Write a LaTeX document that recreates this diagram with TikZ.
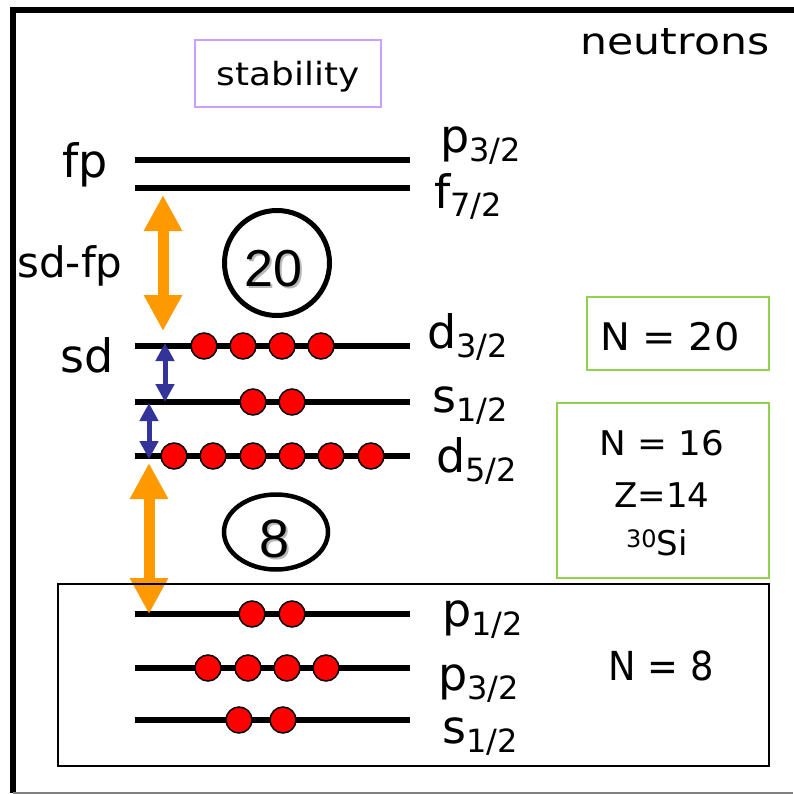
\documentclass[tikz,border=0pt]{standalone}
\usepackage{fontspec}
\setmainfont{DejaVu Sans}
\newfontfamily\arialf{Liberation Sans}
\usepackage{graphicx}
\usetikzlibrary{arrows.meta,shapes.geometric}
\definecolor{orng}{RGB}{255,153,0}
\definecolor{navyb}{RGB}{51,51,153}
\definecolor{lilac}{RGB}{204,160,250}
\definecolor{lgreen}{RGB}{146,208,80}
\newcommand\fsz[1]{\fontsize{#1}{#1}\selectfont}
\newcommand\lvl[2]{{\fsz{46}#1}\raisebox{-9pt}{\fsz{32}#2}}
\newcommand\shadowed[1]{\makebox[0pt][l]{\hspace{2pt}\raisebox{-2pt}{\textcolor{gray!55}{#1}}}#1}
\begin{document}
\begin{tikzpicture}[x=1pt,y=-1pt,
  levelline/.style={line width=6pt},
  elec/.style={circle,draw=black,fill=red,line width=1.5pt,minimum size=26pt,inner sep=0pt},
  bigarrow/.style={draw=orng,line width=11pt,{Triangle[width=36pt,length=36pt]}-{Triangle[width=36pt,length=36pt]}},
  smallarrow/.style={draw=navyb,line width=5pt,{Triangle[width=18pt,length=18pt]}-{Triangle[width=18pt,length=18pt]}},
  lbl/.style={anchor=base west,inner sep=0pt},
  txt/.style={anchor=base,inner sep=0pt},
  greenbox/.style={draw=lgreen,line width=2pt}]
\useasboundingbox (0,0) rectangle (794,794);
% frame
\draw[line width=6pt] (13,793) -- (13,10) -- (794,10);
\draw[gray,line width=1.5pt] (13,793) -- (793,793);
% title texts
\node[draw=lilac,line width=1.5pt,minimum width=186pt,minimum height=67pt,inner sep=0pt] (stabbox) at (288,73.5) {};
\node[txt] (stab) at (288,86) {\scalebox{1.12}[1]{\fsz{32}stability}};
\node[txt] (neut) at (675,55) {\scalebox{1.15}[1]{\fsz{37}neutrons}};
% level coordinates
\foreach \nm/\yy in {p32t/160,f72/188,d32/346,s12/402,d52/456,p12/614,p32/668,s12b/720}{
  \coordinate (\nm L) at (135,\yy);
  \coordinate (\nm R) at (410,\yy);
  \draw[levelline] (\nm L) -- (\nm R);
}
% shell labels
\node[txt] (fp) at (85,178) {\fsz{46}fp};
\node[txt] (sdfp) at (70,277) {\fsz{42}sd-fp};
\node[txt] (sd) at (87,372) {\fsz{46}sd};
% level labels
\node[lbl] (lp32t) at (440,153) {\lvl{p}{3/2}};
\node[lbl] (lf72) at (434,208) {\lvl{f}{7/2}};
\node[lbl] (ld32) at (427,348) {\lvl{d}{3/2}};
\node[lbl] (ls12) at (432,412) {\lvl{s}{1/2}};
\node[lbl] (ld52) at (436,472) {\lvl{d}{5/2}};
\node[lbl] (lp12) at (442,626) {\lvl{p}{1/2}};
\node[lbl] (lp32) at (438,690) {\lvl{p}{3/2}};
\node[lbl] (ls12b) at (442,743) {\lvl{s}{1/2}};
% magic numbers
\node[circle,draw,line width=5pt,minimum size=105pt,inner sep=0pt] (c20) at (277,263) {};
\node[txt] (t20) at (273.5,286) {\arialf\fsz{52}\shadowed{20}};
\node[ellipse,draw,line width=4.5pt,minimum width=104pt,minimum height=75pt,inner sep=0pt] (c8) at (276,532) {};
\node[txt] (t8) at (275,557) {\arialf\fsz{54}\shadowed{8}};
% electrons
\foreach \x [count=\i] in {204,243,282,321} \node[elec] (ed32\i) at (\x,346) {};
\foreach \x [count=\i] in {253,292} \node[elec] (es12\i) at (\x,402) {};
\foreach \x [count=\i] in {174,213,253,292,331,371} \node[elec] (ed52\i) at (\x,456) {};
\foreach \x [count=\i] in {252,292} \node[elec] (ep12\i) at (\x,614) {};
\foreach \x [count=\i] in {208,248,287,326} \node[elec] (ep32\i) at (\x,668) {};
\foreach \x [count=\i] in {239,283} \node[elec] (es12b\i) at (\x,720) {};
% gap arrows
\coordinate (oa1t) at (163,195);
\coordinate (oa1b) at (163,331);
\coordinate (oa2t) at (149,463);
\coordinate (oa2b) at (149,614);
\coordinate (ba1t) at (165,343);
\coordinate (ba1b) at (165,402);
\coordinate (ba2t) at (149,403);
\coordinate (ba2b) at (149,459);
\draw[bigarrow] (oa1t) -- (oa1b);
\draw[bigarrow] (oa2t) -- (oa2b);
\draw[smallarrow] (ba1t) -- (ba1b);
\draw[smallarrow] (ba2t) -- (ba2b);
% right boxes
\node[greenbox,minimum width=182pt,minimum height=73pt,inner sep=0pt] (b20) at (678,333.5) {};
\node[txt] (n20) at (670,350) {\scalebox{1.05}[1]{\fsz{38}N = 20}};
\node[greenbox,minimum width=212pt,minimum height=175pt,inner sep=0pt] (b16) at (663,490.5) {};
\node[txt] (n16) at (662,455) {\scalebox{1.05}[1]{\fsz{34}N = 16}};
\node[txt] (z14) at (662,507) {\fsz{34}Z=14};
\node[txt] (si30) at (657,555) {\raisebox{8pt}{\fsz{24}30}\fsz{34}Si};
\node[draw=black,line width=2pt,minimum width=711pt,minimum height=182pt,inner sep=0pt] (b8) at (413.5,675) {};
\node[txt] (n8) at (661,680) {\scalebox{0.92}[1]{\fsz{40}N = 8}};
\end{tikzpicture}
\end{document}
